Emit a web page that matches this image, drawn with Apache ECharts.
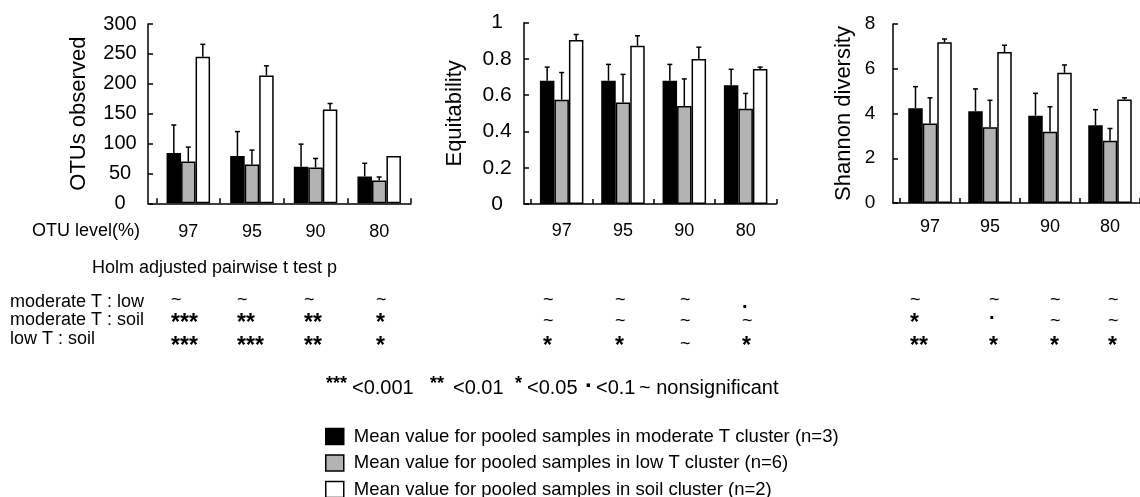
<!DOCTYPE html>
<html>
<head>
<meta charset="utf-8">
<script src="https://cdn.jsdelivr.net/npm/echarts@6/dist/echarts.min.js"></script>
<style>
  html, body { margin: 0; padding: 0; background: #fff; }
  #chart { width: 1140px; height: 497px; }
</style>
</head>
<body>
<div id="chart"></div>
<script>
const levels = ['97', '95', '90', '80'];

const groupNames = [
  'Mean value for pooled samples in moderate T cluster (n=3)',
  'Mean value for pooled samples in low T cluster (n=6)',
  'Mean value for pooled samples in soil cluster (n=2)'
];

// OTUs observed (mean, error)
const otuModerate = [84, 79, 61, 45];
const otuModerateErr = [47, 41, 38, 22];
const otuLow = [70, 65, 60, 38];
const otuLowErr = [24, 24, 15, 6];
const otuSoil = [245, 214, 157, 79];
const otuSoilErr = [21, 16, 10, 0];

// Equitability
const eqModerate = [0.68, 0.68, 0.68, 0.655];
const eqModerateErr = [0.075, 0.09, 0.09, 0.088];
const eqLow = [0.575, 0.56, 0.54, 0.525];
const eqLowErr = [0.15, 0.155, 0.15, 0.085];
const eqSoil = [0.905, 0.873, 0.80, 0.745];
const eqSoilErr = [0.03, 0.055, 0.065, 0.01];

// Shannon diversity
const shModerate = [4.24, 4.1, 3.9, 3.47];
const shModerateErr = [0.96, 1.0, 1.0, 0.7];
const shLow = [3.55, 3.39, 3.18, 2.78];
const shLowErr = [1.15, 1.2, 1.12, 0.55];
const shSoil = [7.18, 6.75, 5.82, 4.63];
const shSoilErr = [0.15, 0.3, 0.35, 0.07];

// Holm adjusted pairwise t test
const pairLabels = ['moderate T : low', 'moderate T : soil', 'low T : soil'];
const sigOtu = [['~', '~', '~', '~'], ['***', '**', '**', '*'], ['***', '***', '**', '*']];
const sigEq = [['~', '~', '~', '.'], ['~', '~', '~', '~'], ['*', '*', '~', '*']];
const sigSh = [['~', '~', '~', '~'], ['*', '.', '~', '~'], ['**', '*', '*', '*']];

// significance key
const keyTexts = ['***', '<0.001', '**', '<0.01', '*', '<0.05', '.', '<0.1', '~ nonsignificant'];

const FONT = '"Liberation Sans", Arial, sans-serif';
const BAR_W = 14.5;
const fills = ['#000000', '#b3b3b3', '#ffffff'];

const panels = [
  {
    title: 'OTUs observed', max: 300, interval: 50,
    data: [[otuModerate, otuModerateErr], [otuLow, otuLowErr], [otuSoil, otuSoilErr]],
    sig: sigOtu, sigX: [171, 237, 304, 376],
    left: 148, barLeft: 156.5, right: 729, top: 24, bottom: 293.7,
    nameGap: 58, labelMargin: 28, labelSize: 20, catMargin: 20
  },
  {
    title: 'Equitability', max: 1, interval: 0.2,
    data: [[eqModerate, eqModerateErr], [eqLow, eqLowErr], [eqSoil, eqSoilErr]],
    sig: sigEq, sigX: [543, 615, 680, 742],
    left: 524, barLeft: 531, right: 363.7, top: 22.7, bottom: 293,
    nameGap: 58, labelMargin: 27, labelSize: 21, catMargin: 18
  },
  {
    title: 'Shannon diversity', max: 8, interval: 2,
    data: [[shModerate, shModerateErr], [shLow, shLowErr], [shSoil, shSoilErr]],
    sig: sigSh, sigX: [910, 989, 1050, 1108],
    left: 893, barLeft: 900, right: -5.5, top: 24, bottom: 294,
    nameGap: 38, labelMargin: 23, labelSize: 19, catMargin: 15
  }
];

function errorRenderer(offset) {
  return function (params, api) {
    const i = api.value(0), v = api.value(1), e = api.value(2);
    if (!e) return null;
    const base = api.coord([i, v]);
    const top = api.coord([i, v + e]);
    const x = base[0] + offset;
    const style = { stroke: '#000', lineWidth: 1.5 };
    return {
      type: 'group',
      children: [
        { type: 'line', shape: { x1: x, y1: base[1], x2: x, y2: top[1] }, style: style },
        { type: 'line', shape: { x1: x - 2.5, y1: top[1], x2: x + 2.5, y2: top[1] }, style: style }
      ]
    };
  };
}

const grid = [], xAxis = [], yAxis = [], series = [];

panels.forEach((p, k) => {
  const frame = 2 * k, bars = 2 * k + 1;
  grid.push({ left: p.left, right: p.right, top: p.top, bottom: p.bottom });
  grid.push({ left: p.barLeft, right: p.right, top: p.top, bottom: p.bottom });

  // frame: y axis with labels and name, plus the bottom axis line
  xAxis.push({
    gridIndex: frame, type: 'value', min: 0, max: 1,
    axisLine: { show: true, lineStyle: { color: '#000', width: 1.5 } },
    axisTick: { show: false }, axisLabel: { show: false }, splitLine: { show: false }
  });
  yAxis.push({
    gridIndex: frame, type: 'value', min: 0, max: p.max, interval: p.interval,
    name: p.title, nameLocation: 'middle', nameGap: p.nameGap,
    nameTextStyle: { color: '#000', fontSize: 22, fontFamily: FONT },
    axisLine: { show: true, lineStyle: { color: '#000', width: 1.5 } },
    axisTick: { show: true, inside: true, length: 5, lineStyle: { color: '#000', width: 1.5 } },
    axisLabel: { color: '#000', fontSize: p.labelSize, fontFamily: FONT, align: 'center', margin: p.labelMargin },
    splitLine: { show: false }
  });

  // bars
  xAxis.push({
    gridIndex: bars, type: 'category', data: levels,
    axisLine: { show: false },
    axisTick: { show: true, inside: true, length: 5, interval: 0, lineStyle: { color: '#000', width: 1.5 } },
    axisLabel: { color: '#000', fontSize: 18, fontFamily: FONT, margin: p.catMargin }
  });
  yAxis.push({ gridIndex: bars, type: 'value', min: 0, max: p.max, show: false });

  p.data.forEach((d, j) => {
    series.push({
      name: groupNames[j], type: 'bar', xAxisIndex: bars, yAxisIndex: bars,
      barWidth: BAR_W, barGap: '0%',
      itemStyle: { color: fills[j], borderColor: '#000', borderWidth: 1.5 },
      data: d[0]
    });
  });
  p.data.forEach((d, j) => {
    series.push({
      type: 'custom', xAxisIndex: bars, yAxisIndex: bars, z: 5, silent: true,
      renderItem: errorRenderer((j - 1) * BAR_W),
      encode: { x: 0, y: 1 },
      data: d[0].map((v, i) => [i, v, d[1][i]])
    });
  });
});

// table and captions
const rowY = [302, 320, 339];
const symY = [300, 324, 347];
const graphic = [
  { type: 'text', left: 32, top: 222, style: { text: 'OTU level(%)', fill: '#000', font: '18px ' + FONT } },
  { type: 'text', left: 92, top: 259, style: { text: 'Holm adjusted pairwise t test p', fill: '#000', font: '18px ' + FONT } }
];
pairLabels.forEach((t, r) => {
  graphic.push({ type: 'text', x: 10, y: rowY[r], style: { text: t, fill: '#000', font: '18px ' + FONT, verticalAlign: 'middle' } });
});
panels.forEach(p => {
  p.sig.forEach((row, r) => {
    row.forEach((s, c) => {
      let font = '18px ' + FONT, y = symY[r];
      if (s.indexOf('*') >= 0) font = 'bold 23px ' + FONT;
      else if (s === '.') { font = 'bold 20px ' + FONT; y = r === 0 ? 302 : 313; }
      else if (r > 0) y -= 3;
      graphic.push({
        type: 'text', x: p.sigX[c], y: y,
        style: { text: s, fill: '#000', verticalAlign: 'middle', font: font }
      });
    });
  });
});

// key line
const keyX = [326, 352, 430, 453, 515, 527, 585, 596, 639];
keyTexts.forEach((t, i) => {
  const star = t.indexOf('*') >= 0;
  let font = '20px ' + FONT, y = 388;
  if (star) { font = 'bold 18px ' + FONT; y = 384; }
  if (t === '.') { font = 'bold 24px ' + FONT; y = 380; }
  graphic.push({
    type: 'text', x: keyX[i], y: y,
    style: { text: t, fill: '#000', verticalAlign: 'middle', font: font }
  });
});

const chart = echarts.init(document.getElementById('chart'));
chart.setOption({
  animation: false,
  backgroundColor: '#fff',
  grid: grid,
  xAxis: xAxis,
  yAxis: yAxis,
  series: series,
  legend: {
    data: groupNames, orient: 'vertical', left: 325, top: 427, height: 90, padding: 0,
    itemWidth: 18, itemHeight: 16, itemGap: 7.5, icon: 'rect',
    itemStyle: { borderColor: '#000', borderWidth: 1.5 },
    textStyle: { color: '#000', fontSize: 18.5, fontFamily: FONT, lineHeight: 16, padding: [0, 0, 0, 5] }
  },
  graphic: graphic
});
</script>
</body>
</html>
